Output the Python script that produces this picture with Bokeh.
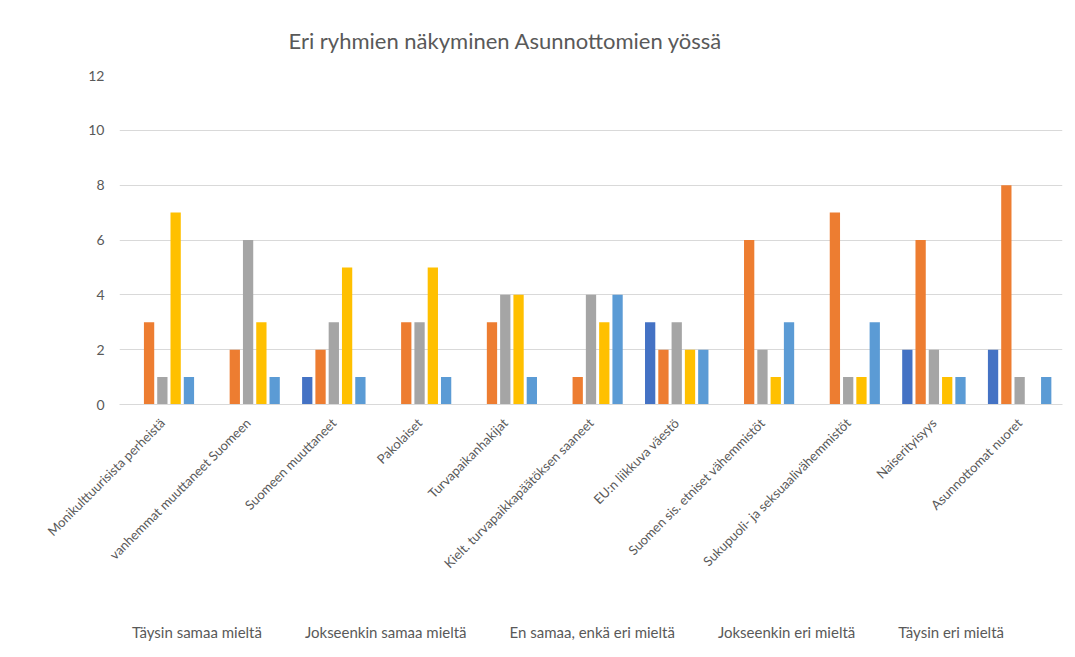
import math
from bokeh.plotting import figure
from bokeh.layouts import column
from bokeh.models import (FactorRange, Legend, LegendItem, ColumnDataSource, FixedTicker,
                          CDSView, IndexFilter)
from bokeh.transform import dodge
from bokeh.embed import file_html
from bokeh.resources import INLINE

NaN = float("nan")

categories = [
    "Monikulttuurisista perheistä",
    "vanhemmat muuttaneet Suomeen",
    "Suomeen muuttaneet",
    "Pakolaiset",
    "Turvapaikanhakijat",
    "Kielt. turvapaikkapäätöksen saaneet",
    "EU:n liikkuva väestö",
    "Suomen sis. etniset vähemmistöt",
    "Sukupuoli- ja seksuaalivähemmistöt",
    "Naiserityisyys",
    "Asunnottomat nuoret",
]

series_names = [
    "Täysin samaa mieltä",
    "Jokseenkin samaa mieltä",
    "En samaa, enkä eri mieltä",
    "Jokseenkin eri mieltä",
    "Täysin eri mieltä",
]

taysin_samaa = [NaN, NaN, 1, NaN, NaN, NaN, 3, NaN, NaN, 2, 2]
jokseenkin_samaa = [3, 2, 2, 3, 3, 1, 2, 6, 7, 6, 8]
en_samaa_enka_eri = [1, 6, 3, 3, 4, 4, 3, 2, 1, 2, 1]
jokseenkin_eri = [7, 3, 5, 5, 4, 3, 2, 1, 1, 1, NaN]
taysin_eri = [1, 1, 1, 1, 1, 4, 2, 3, 3, 1, 1]

y_ticks = [0, 2, 4, 6, 8, 10, 12]

colors = ["#4472C4", "#ED7D31", "#A5A5A5", "#FFC000", "#5B9BD5"]
keys = ["s1", "s2", "s3", "s4", "s5"]
offsets = [-0.31, -0.155, 0.0, 0.155, 0.31]

source = ColumnDataSource(data=dict(
    cat=categories,
    s1=taysin_samaa,
    s2=jokseenkin_samaa,
    s3=en_samaa_enka_eri,
    s4=jokseenkin_eri,
    s5=taysin_eri,
))

FONT = "Lato"
TXT = "#595959"
GRID = "#d9d9d9"

# ---- main chart ----
p = figure(
    x_range=FactorRange(*categories, range_padding=0),
    y_range=(0, 12),
    width=1075, height=649,
    output_backend="svg",
    toolbar_location=None,
    min_border_left=119, min_border_right=13, min_border_top=75, min_border_bottom=245,
)
p.x_range.factor_padding = 0

for k, c, off in zip(keys, colors, offsets):
    p.vbar(x=dodge("cat", off, range=p.x_range), top=k, width=0.12, bottom=0,
           source=source, fill_color=c, line_color=None)

p.title.text = "Eri ryhmien näkyminen Asunnottomien yössä"
p.title.text_font = FONT
p.title.text_font_size = "22px"
p.title.text_font_style = "normal"
p.title.text_color = TXT
p.title.align = "left"
p.title.offset = 169
p.title.standoff = 44

p.outline_line_color = None
p.xgrid.grid_line_color = None
p.ygrid.grid_line_color = GRID

p.yaxis.ticker = FixedTicker(ticks=y_ticks)
p.yaxis.axis_line_color = None
p.yaxis.major_tick_line_color = None
p.yaxis.minor_tick_line_color = None
p.yaxis.major_label_text_font = FONT
p.yaxis.major_label_text_font_size = "14px"
p.yaxis.major_label_text_color = TXT
p.yaxis.major_label_standoff = 9

p.xaxis.axis_line_color = GRID
p.xaxis.major_tick_line_color = None
p.xaxis.minor_tick_line_color = None
p.xaxis.major_label_orientation = math.pi / 4
p.xaxis.major_label_text_font = FONT
p.xaxis.major_label_text_font_size = "13px"
p.xaxis.major_label_text_color = TXT
p.xaxis.major_label_standoff = 10

# ---- legend strip (its renderers draw no bars; only the legend shows) ----
p2 = figure(
    x_range=FactorRange(*categories, range_padding=0),
    y_range=(-10, -9),
    width=1075, height=40,
    output_backend="svg",
    toolbar_location=None,
    x_axis_location=None, y_axis_location=None,
    min_border=0,
)
p2.outline_line_color = None
p2.grid.grid_line_color = None
p2.background_fill_alpha = 0
p2.border_fill_alpha = 0
p2.margin = (-37, 0, 0, 0)

empty_view = CDSView(filter=IndexFilter(indices=[]))
leg_renderers = []
for k, c, off in zip(keys, colors, offsets):
    r = p2.vbar(x=dodge("cat", off, range=p2.x_range), top=k, width=0.12, bottom=0,
                source=source, view=empty_view, fill_color=c, line_color=None)
    leg_renderers.append(r)

legend = Legend(
    items=[LegendItem(label=n, renderers=[r]) for n, r in zip(series_names, leg_renderers)],
    orientation="horizontal",
    location=(-2, 11),
    glyph_width=9, glyph_height=9,
    label_standoff=6, spacing=28,
    label_text_font=FONT, label_text_font_size="15px", label_text_color=TXT,
    border_line_color=None, background_fill_alpha=0,
    margin=0, padding=4,
)
p2.add_layout(legend, "center")

layout = column(p, p2, spacing=0)

open("out.html", "w").write(file_html(layout, INLINE))
